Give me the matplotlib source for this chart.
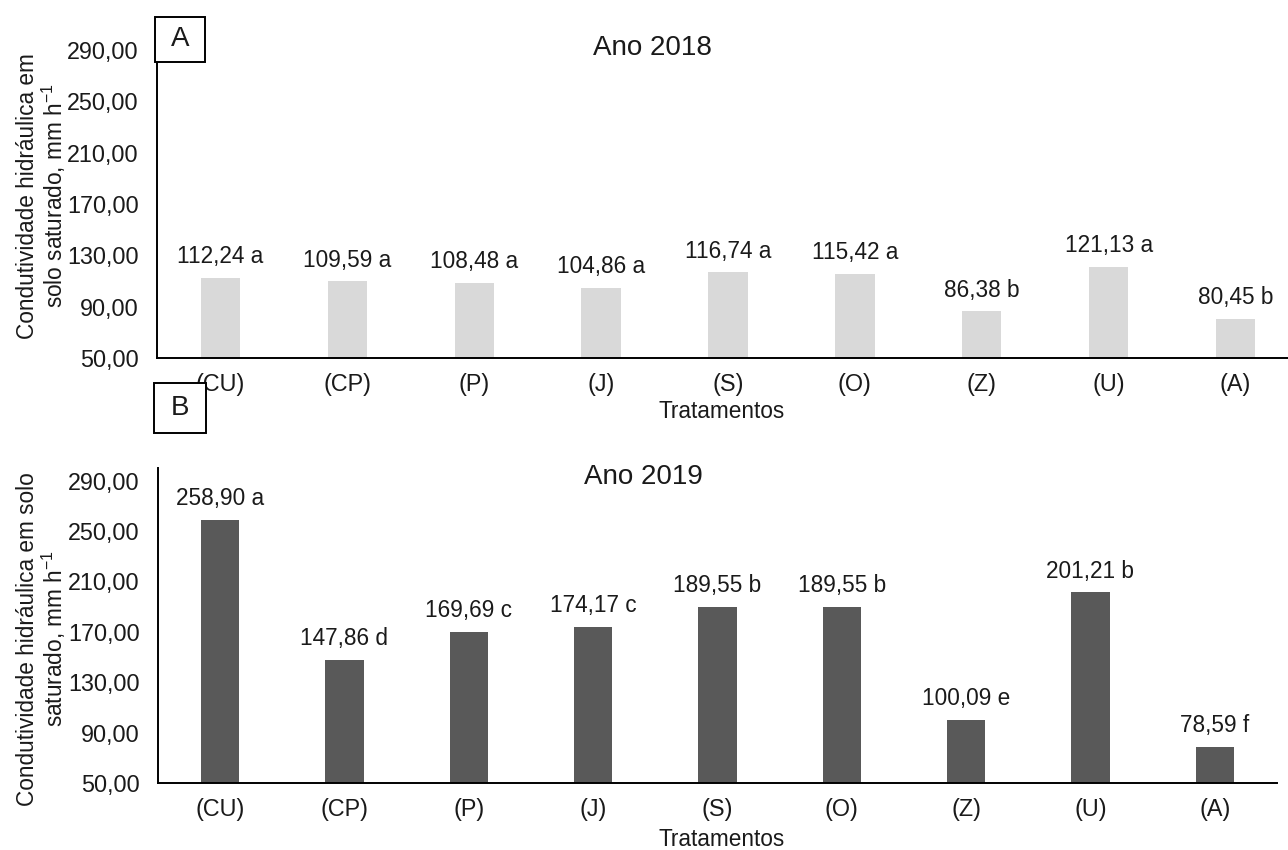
import matplotlib.pyplot as plt
from matplotlib.patches import Rectangle
import numpy as np

plt.rcParams["font.family"] = ["Liberation Sans", "DejaVu Sans"]
plt.rcParams["mathtext.fontset"] = "custom"
plt.rcParams["mathtext.rm"] = "Liberation Sans"
plt.rcParams["mathtext.default"] = "regular"

tratamentos = ["(CU)", "(CP)", "(P)", "(J)", "(S)", "(O)", "(Z)", "(U)", "(A)"]

ks_2018 = [112.24, 109.59, 108.48, 104.86, 116.74, 115.42, 86.38, 121.13, 80.45]
letras_2018 = ["a", "a", "a", "a", "a", "a", "b", "a", "b"]

ks_2019 = [258.90, 147.86, 169.69, 174.17, 189.55, 189.55, 100.09, 201.21, 78.59]
letras_2019 = ["a", "d", "c", "c", "b", "b", "e", "b", "f"]

yticks = [50, 90, 130, 170, 210, 250, 290]

W, H = 1288, 850
TXT = "#1a1a1a"


def fmt(v):
    return f"{v:.2f}".replace(".", ",")


def painel(ax, valores, letras, cor):
    x = np.arange(len(tratamentos))
    ax.bar(x, np.array(valores) - 50, bottom=50, width=0.31, color=cor)
    for xi, v, l in zip(x, valores, letras):
        ax.annotate(fmt(v) + " " + l, (xi, v), xytext=(0, 7),
                    textcoords="offset points", ha="center", va="bottom",
                    fontsize=16.3, color=TXT)
    ax.set_xlim(-0.5, len(tratamentos) - 0.5)
    ax.set_ylim(50, 300)
    ax.set_xticks(x)
    ax.set_xticklabels(tratamentos)
    ax.set_yticks(yticks)
    ax.set_yticklabels([fmt(t) for t in yticks])
    ax.tick_params(axis="both", length=0, labelsize=16.8, colors=TXT)
    ax.tick_params(axis="x", pad=11)
    ax.tick_params(axis="y", pad=13)
    for s in ["top", "right"]:
        ax.spines[s].set_visible(False)
    for s in ["left", "bottom"]:
        ax.spines[s].set_linewidth(1.4)
        ax.spines[s].set_color("black")


fig = plt.figure(figsize=(12.88, 8.5), dpi=100)

ax1 = fig.add_axes([157 / W, 1 - 358 / H, 1142 / W, 321 / H])
painel(ax1, ks_2018, letras_2018, "#d9d9d9")

ax2 = fig.add_axes([158 / W, 1 - 783 / H, 1119 / W, 315 / H])
painel(ax2, ks_2019, letras_2019, "#595959")

fig.text(652 / W, 1 - 48 / H, "Ano 2018", ha="center", va="center",
         fontsize=20, color=TXT)
fig.text(643 / W, 1 - 477 / H, "Ano 2019", ha="center", va="center",
         fontsize=20, color=TXT)

fig.text(722 / W, 1 - 412 / H, "Tratamentos", ha="center", va="center",
         fontsize=16.3, color=TXT)
fig.text(722 / W, 1 - 840 / H, "Tratamentos", ha="center", va="center",
         fontsize=16.3, color=TXT)

fig.text(42 / W, 1 - 196 / H,
         "Condutividade hidráulica em\nsolo saturado, mm h$^{-1}$",
         rotation=90, ha="center", va="center", fontsize=16.3,
         color=TXT, linespacing=1.05, multialignment="center")
fig.text(42 / W, 1 - 639 / H,
         "Condutividade hidráulica em solo\nsaturado, mm h$^{-1}$",
         rotation=90, ha="center", va="center", fontsize=16.3,
         color=TXT, linespacing=1.05, multialignment="center")

# caixas com as letras dos painéis
for x0, y0, x1, y1, letra in [(155, 17, 205, 62, "A"), (154, 383, 206, 433, "B")]:
    fig.patches.append(Rectangle((x0 / W, 1 - y1 / H), (x1 - x0) / W, (y1 - y0) / H,
                                 transform=fig.transFigure, facecolor="white",
                                 edgecolor="black", linewidth=1.4, zorder=5))
    fig.text((x0 + x1) / 2 / W, 1 - (y0 + y1) / 2 / H, letra, ha="center",
             va="center", fontsize=20, color=TXT, zorder=6)

fig.savefig("out.png", dpi=100)
